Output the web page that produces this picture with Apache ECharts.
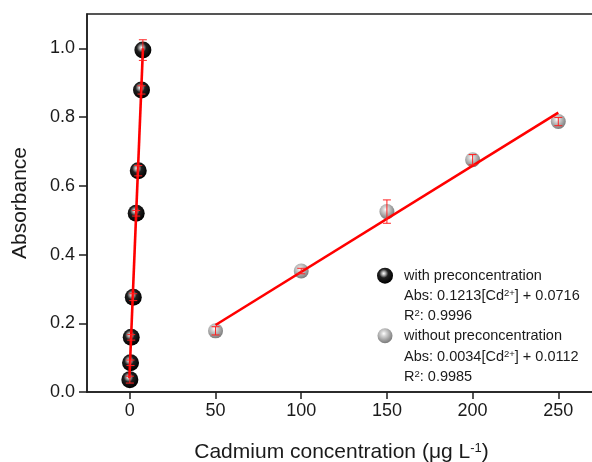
<!DOCTYPE html>
<html>
<head>
<meta charset="utf-8">
<script src="https://cdn.jsdelivr.net/npm/echarts@6/dist/echarts.min.js"></script>
<style>
  html, body { margin: 0; padding: 0; background: #fff; }
  #chart { width: 592px; height: 462px; }
</style>
</head>
<body>
<div id="chart"></div>
<script>
// Calibration data: cadmium concentration (µg/L) vs absorbance
const withX   = [0, 0.4, 0.8, 2.0, 3.7, 4.9, 6.8, 7.6];
const withY   = [0.036, 0.085, 0.159, 0.276, 0.520, 0.644, 0.879, 0.995];
const withErr = [0.010, 0.008, 0.008, 0.010, 0.008, 0.015, 0.012, 0.030];

const withoutX   = [50, 100, 150, 200, 250];
const withoutY   = [0.178, 0.352, 0.525, 0.676, 0.787];
const withoutErr = [0.012, 0.008, 0.034, 0.015, 0.012];

// Regression line end points
const withFitX    = [-0.26, 7.65];
const withFitY    = [0.040, 1.000];
const withoutFitX = [50, 250];
const withoutFitY = [0.195, 0.813];

const xTicks = [0, 50, 100, 150, 200, 250];
const yTicks = [0, 0.2, 0.4, 0.6, 0.8, 1.0];

const legendLines = [
  'with preconcentration',
  'Abs: 0.1213[Cd{sup|2+}] + 0.0716',
  'R{sup|2}: 0.9996',
  'without preconcentration',
  'Abs: 0.0034[Cd{sup|2+}] + 0.0112',
  'R{sup|2}: 0.9985'
];

const FONT = '"Liberation Sans", Arial, sans-serif';
const AXIS_COLOR = '#1e1e1e';

const blackBall = {
  type: 'radial', x: 0.42, y: 0.36, r: 0.62,
  colorStops: [
    { offset: 0, color: '#ffffff' },
    { offset: 0.18, color: '#b0b0b0' },
    { offset: 0.45, color: '#202020' },
    { offset: 1, color: '#000000' }
  ]
};
const greyBall = {
  type: 'radial', x: 0.42, y: 0.36, r: 0.65,
  colorStops: [
    { offset: 0, color: '#ffffff' },
    { offset: 0.25, color: '#d6d6d6' },
    { offset: 0.7, color: '#9c9c9c' },
    { offset: 1, color: '#7a7a7a' }
  ]
};

const zip = (xs, ys) => xs.map((x, i) => [x, ys[i]]);
const errData = (xs, ys, es) => xs.map((x, i) => [x, ys[i] - es[i], ys[i] + es[i]]);

function renderErr(params, api) {
  const x = api.value(0);
  const lo = api.coord([x, api.value(1)]);
  const hi = api.coord([x, api.value(2)]);
  const w = 4;
  const style = { stroke: '#ff2020', lineWidth: 1 };
  return {
    type: 'group',
    children: [
      { type: 'line', shape: { x1: lo[0], y1: lo[1], x2: hi[0], y2: hi[1] }, style },
      { type: 'line', shape: { x1: lo[0] - w, y1: lo[1], x2: lo[0] + w, y2: lo[1] }, style },
      { type: 'line', shape: { x1: hi[0] - w, y1: hi[1], x2: hi[0] + w, y2: hi[1] }, style }
    ]
  };
}

const chart = echarts.init(document.getElementById('chart'), null, { renderer: 'canvas' });

const legendTop = 275.7;
const legendStep = 20.2;
const legendGraphics = [
  { type: 'circle', shape: { cx: 385, cy: 275.7, r: 8 }, style: { fill: blackBall }, z: 10 },
  { type: 'circle', shape: { cx: 385, cy: 335.7, r: 7.5 }, style: { fill: greyBall }, z: 10 }
].concat(legendLines.map((t, i) => ({
  type: 'text',
  x: 404,
  y: legendTop + i * legendStep,
  z: 10,
  style: {
    text: t,
    fontFamily: FONT,
    fontSize: 14.5,
    fill: '#1a1a1a',
    verticalAlign: 'middle',
    align: 'left',
    rich: { sup: { fontSize: 9.5, verticalAlign: 'top', fontFamily: FONT, fill: '#1a1a1a' } }
  }
})));

chart.setOption({
  animation: false,
  backgroundColor: '#ffffff',
  grid: {
    left: 87, right: -4, top: 14, bottom: 70,
    outerBoundsMode: 'none',
    containLabel: false,
    show: true, borderColor: AXIS_COLOR, borderWidth: 1.5, backgroundColor: 'transparent'
  },
  xAxis: {
    type: 'value',
    min: -25, max: 272,
    name: 'Cadmium concentration (μg L{sup|-1})',
    nameLocation: 'middle',
    nameGap: 50,
    nameTextStyle: {
      fontFamily: FONT, fontSize: 21, color: '#1a1a1a',
      rich: { sup: { fontSize: 13, verticalAlign: 'top', fontFamily: FONT, color: '#1a1a1a' } }
    },
    axisLine: { onZero: false, lineStyle: { color: AXIS_COLOR, width: 1.5 } },
    axisTick: { show: true, inside: false, length: 7, customValues: xTicks, lineStyle: { color: AXIS_COLOR, width: 1.5 } },
    axisLabel: { customValues: xTicks, margin: 10, fontFamily: FONT, fontSize: 18, color: '#1a1a1a' },
    splitLine: { show: false }
  },
  yAxis: {
    type: 'value',
    min: 0, max: 1.1,
    name: 'Absorbance',
    nameLocation: 'middle',
    nameGap: 56,
    nameTextStyle: { fontFamily: FONT, fontSize: 21, color: '#1a1a1a' },
    axisLine: { show: true, onZero: false, lineStyle: { color: AXIS_COLOR, width: 1.5 } },
    axisTick: { show: true, inside: false, length: 8, customValues: yTicks, lineStyle: { color: AXIS_COLOR, width: 1.5 } },
    axisLabel: {
      customValues: yTicks, margin: 12, fontFamily: FONT, fontSize: 18, color: '#1a1a1a',
      formatter: v => v.toFixed(1)
    },
    splitLine: { show: false }
  },
  series: [
    {
      name: 'with preconcentration', type: 'scatter', z: 2,
      symbol: 'circle', symbolSize: 17,
      itemStyle: { color: blackBall, opacity: 1 },
      data: zip(withX, withY)
    },
    {
      name: 'without preconcentration', type: 'scatter', z: 2,
      symbol: 'circle', symbolSize: 15,
      itemStyle: { color: greyBall, opacity: 1 },
      data: zip(withoutX, withoutY)
    },
    {
      type: 'line', z: 3, symbol: 'none', silent: true,
      lineStyle: { color: '#ff0000', width: 2.6 },
      data: zip(withFitX, withFitY)
    },
    {
      type: 'line', z: 3, symbol: 'none', silent: true,
      lineStyle: { color: '#ff0000', width: 2.6 },
      data: zip(withoutFitX, withoutFitY)
    },
    {
      type: 'custom', z: 4, silent: true,
      renderItem: renderErr,
      encode: { x: 0, y: [1, 2] },
      data: errData(withX, withY, withErr)
    },
    {
      type: 'custom', z: 4, silent: true,
      renderItem: renderErr,
      encode: { x: 0, y: [1, 2] },
      data: errData(withoutX, withoutY, withoutErr)
    }
  ],
  graphic: legendGraphics
});
</script>
</body>
</html>
